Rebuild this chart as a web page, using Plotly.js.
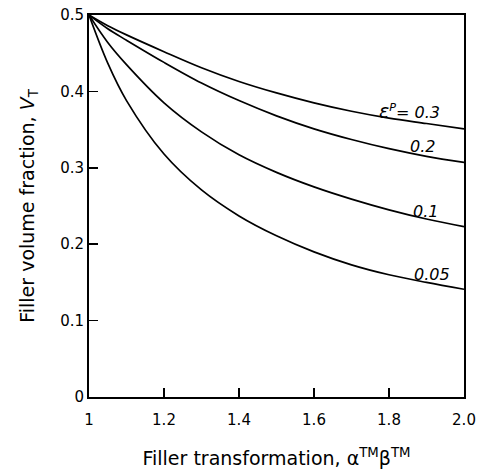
<!DOCTYPE html>
<html>
<head>
<meta charset="utf-8">
<script src="https://cdn.plot.ly/plotly-3.0.1.min.js"></script>
<style>html,body{margin:0;padding:0;background:#fff;}#chart{width:481px;height:469px;}</style>
</head>
<body>
<div id="chart"></div>
<script>
// Filler transformation values
const xValues = [1.0, 1.05, 1.1, 1.2, 1.3, 1.4, 1.5, 1.6, 1.7, 1.8, 1.9, 2.0];
// Filler volume fraction for each eps^P
const vT_03  = [0.5, 0.486, 0.474, 0.452, 0.431, 0.413, 0.398, 0.385, 0.374, 0.365, 0.358, 0.351];
const vT_02  = [0.5, 0.482, 0.467, 0.438, 0.411, 0.388, 0.368, 0.351, 0.337, 0.325, 0.315, 0.307];
const vT_01  = [0.5, 0.464, 0.435, 0.385, 0.347, 0.317, 0.294, 0.275, 0.259, 0.245, 0.233, 0.223];
const vT_005 = [0.5, 0.437, 0.388, 0.318, 0.271, 0.237, 0.211, 0.190, 0.173, 0.160, 0.150, 0.141];
const seriesLabels = ['<i><span style="font-size:19px">ε</span><sup>P</sup>= 0.3</i>', '<i>0.2</i>', '<i>0.1</i>', '<i>0.05</i>'];
const labelX = [1.855, 1.89, 1.896, 1.915];
const labelY = [0.375, 0.328, 0.243, 0.161];
const xTickVals = [1, 1.2, 1.4, 1.6, 1.8, 2.0];
const xTickText = ['1', '1.2', '1.4', '1.6', '1.8', '2.0'];
const yTickVals = [0, 0.1, 0.2, 0.3, 0.4, 0.5];
const yTickText = ['0', '0.1', '0.2', '0.3', '0.4', '0.5'];

const FONT = '"DejaVu Sans", sans-serif';
const allSeries = [vT_03, vT_02, vT_01, vT_005];
const traces = allSeries.map(ys => ({
  x: xValues, y: ys, type: 'scatter', mode: 'lines',
  line: {color: '#000', width: 1.7, shape: 'spline', smoothing: 1},
  hoverinfo: 'skip', showlegend: false
}));

const annotations = seriesLabels.map((t, i) => ({
  x: labelX[i], y: labelY[i], xref: 'x', yref: 'y', text: t,
  showarrow: false, font: {family: FONT, size: 16, color: '#000'},
  xanchor: 'center', yanchor: 'middle'
}));

const layout = {
  width: 481, height: 469,
  margin: {l: 89, r: 17, t: 15, b: 72},
  paper_bgcolor: '#fff', plot_bgcolor: '#fff',
  showlegend: false,
  font: {family: FONT, size: 16, color: '#000'},
  xaxis: {
    range: [1, 2], tickvals: xTickVals, ticktext: xTickText,
    ticks: 'inside', ticklen: 9, tickwidth: 1.5, tickcolor: '#000',
    ticklabelstandoff: 8,
    showline: true, linewidth: 2, linecolor: '#000', mirror: true,
    showgrid: false, zeroline: false,
    tickfont: {family: FONT, size: 15, color: '#000'},
    title: {text: 'Filler transformation, α<sup>TM</sup>β<sup>TM</sup>', font: {family: FONT, size: 19, color: '#000'}, standoff: 24}
  },
  yaxis: {
    range: [0, 0.5], tickvals: yTickVals, ticktext: yTickText,
    ticks: 'inside', ticklen: 9, tickwidth: 1.5, tickcolor: '#000',
    showline: true, linewidth: 2, linecolor: '#000', mirror: true,
    showgrid: false, zeroline: false,
    tickfont: {family: FONT, size: 15, color: '#000'},
    title: {text: 'Filler volume fraction, <i>V</i><sub>T</sub>', font: {family: FONT, size: 19, color: '#000'}, standoff: 20}
  },
  annotations: annotations
};

Plotly.newPlot('chart', traces, layout, {staticPlot: true, displayModeBar: false});
</script>
</body>
</html>
